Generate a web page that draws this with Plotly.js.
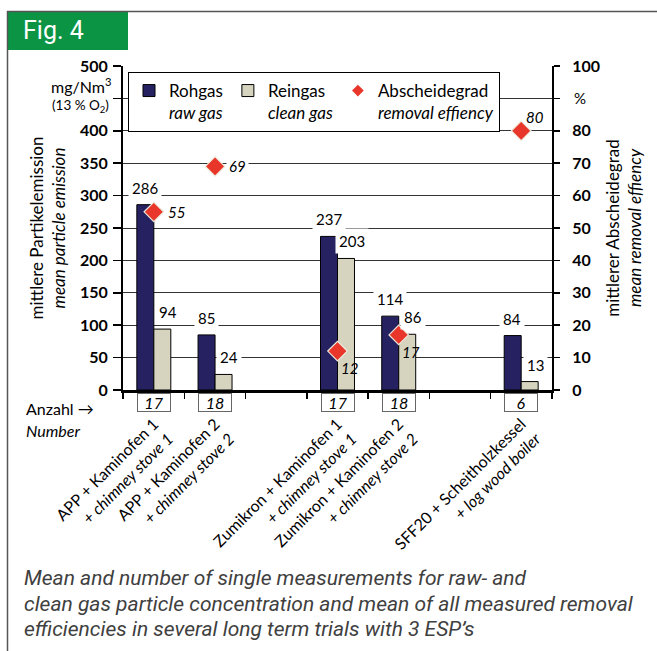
<!DOCTYPE html>
<html><head><meta charset="utf-8">
<script src="https://cdn.plot.ly/plotly-3.0.1.min.js"></script>
<style>html,body{margin:0;padding:0;background:#fff;} #chart{width:657px;height:651px;}</style>
</head><body><div id="chart"></div>
<script>
// ---- data ----
const categoryKeys = ["APP1", "APP2", "gap1", "ZUM1", "ZUM2", "gap2", "SFF20"];
const categoryLabels = [
  "APP + Kaminofen 1<br><i>+ chimney stove 1</i>",
  "APP + Kaminofen 2<br><i>+ chimney stove 2</i>",
  "",
  "Zumikron + Kaminofen 1<br><i>+ chimney stove 1</i>",
  "Zumikron + Kaminofen 2<br><i>+ chimney stove 2</i>",
  "",
  "SFF20 + Scheitholzkessel<br><i>+ log wood boiler</i>"
];
const rawGas = [286, 85, null, 237, 114, null, 84];
const cleanGas = [94, 24, null, 203, 86, null, 13];
const removalEfficiency = [55, 69, null, 12, 17, null, 80];
const measurementCounts = [17, 18, null, 17, 18, null, 6];
const leftTickVals = [0, 50, 100, 150, 200, 250, 300, 350, 400, 450, 500];
const leftTickText = ["0", "50", "100", "150", "200", "250", "300", "350", "400", "", "500"];
const rightTickVals = [0, 10, 20, 30, 40, 50, 60, 70, 80, 90, 100];
const rightTickText = ["0", "10", "20", "30", "40", "50", "60", "70", "80", "", "100"];

// ---- style (not data) ----
const removalLabelPlacement = ["right", "right", null, "below", "below", null, "above"];
const NAVY = "#262262", BEIGE = "#D6D3BF", RED = "#E8372A", GREEN = "#0A9444";
const FONT = "Lato, 'Open Sans', sans-serif";
const CAPFONT = "Roboto, sans-serif";
const L = 123, R = 552, T = 66, B = 390;
const px2x = p => (p - L) / (R - L);
const py2y = p => (B - p) / (B - T);

const traces = [
  {type: "bar", name: "Rohgas<br><i>raw gas</i>", x: categoryKeys, y: rawGas,
   marker: {color: NAVY, line: {color: "#000", width: 1}}, hoverinfo: "skip"},
  {type: "bar", name: "Reingas<br><i>clean gas</i>", x: categoryKeys, y: cleanGas,
   marker: {color: BEIGE, line: {color: "#000", width: 1}}, hoverinfo: "skip"},
  {type: "scatter", mode: "markers", name: "Abscheidegrad", showlegend: false,
   x: categoryKeys, y: removalEfficiency, yaxis: "y2",
   marker: {symbol: "diamond", size: 15, color: RED, line: {color: "#EDE9DC", width: 1.2}}, hoverinfo: "skip"},
  {type: "scatter", mode: "markers", name: "Abscheidegrad<br><i>removal effiency</i>",
   x: [null], y: [null], yaxis: "y2",
   marker: {symbol: "diamond", size: 9, color: RED, line: {width: 0}}}
];

const annotations = [];
const valFont = {family: FONT, size: 15, color: "#000"};
categoryKeys.forEach((k, i) => {
  if (rawGas[i] != null) annotations.push({x: k, y: rawGas[i], xref: "x", yref: "y", text: String(rawGas[i]),
    showarrow: false, xshift: -9, yshift: 17, bgcolor: "#fff", borderpad: 3, font: valFont});
  if (cleanGas[i] != null) annotations.push({x: k, y: cleanGas[i], xref: "x", yref: "y", text: String(cleanGas[i]),
    showarrow: false, xshift: 14, yshift: 17, bgcolor: "#fff", borderpad: 3, font: valFont});
  if (removalEfficiency[i] != null) {
    const pos = removalLabelPlacement[i];
    const a = {x: k, y: removalEfficiency[i], xref: "x", yref: "y2", text: "<i>" + removalEfficiency[i] + "</i>",
      showarrow: false, xanchor: "left", yanchor: "middle", font: valFont};
    if (pos === "right") { a.xshift = 11; a.bgcolor = "#fff"; a.borderpad = 2; }
    if (pos === "below") { a.xshift = 1; a.yshift = -17; }
    if (pos === "above") { a.xshift = 3; a.yshift = 14; }
    annotations.push(a);
  }
  if (measurementCounts[i] != null) annotations.push({x: k, y: 0, xref: "x", yref: "y", yanchor: "top",
    text: "<i>" + measurementCounts[i] + "</i>", showarrow: false, yshift: -3, width: 30, height: 15,
    bgcolor: "#fff", bordercolor: "#666", borderwidth: 1, borderpad: 1, font: {family: FONT, size: 16, color: "#000"}});
});
// side texts
function paperText(px, py, text, font, xanchor) {
  return {xref: "paper", yref: "paper", x: px2x(px), y: py2y(py), xanchor: xanchor || "left", yanchor: "middle",
    showarrow: false, text: text, font: font};
}
annotations.push(
  paperText(113, 85, "mg/Nm<sup>3</sup>", {family: FONT, size: 16, color: "#000"}, "right"),
  paperText(111, 106, "(13 % O<sub>2</sub>)", {family: FONT, size: 13.5, color: "#000"}, "right"),
  paperText(572, 98, "%", {family: FONT, size: 15, color: "#000"}),
  paperText(24, 408, "Anzahl \u2192", {family: FONT, size: 16, color: "#000"}),
  paperText(24, 430, "<i>Number</i>", {family: FONT, size: 16, color: "#000"}),
  paperText(21, 31, "Fig. 4", {family: CAPFONT, size: 25, color: "#fff"}),
  paperText(22, 578, "<i>Mean and number of single measurements for raw- and</i>", {family: CAPFONT, size: 21, color: "#404040"}),
  paperText(22, 604, "<i>clean gas particle concentration and mean of all measured removal</i>", {family: CAPFONT, size: 21, color: "#404040"}),
  paperText(22, 629, "<i>efficiencies in several long term trials with 3 ESP\u2019s</i>", {family: CAPFONT, size: 21, color: "#404040"})
);

const shapes = [
  {type: "line", xref: "paper", yref: "paper", x0: px2x(7), x1: px2x(657), y0: py2y(11.5), y1: py2y(11.5), line: {color: "#555", width: 1.5}},
  {type: "line", xref: "paper", yref: "paper", x0: px2x(7.5), x1: px2x(7.5), y0: py2y(11), y1: py2y(651), line: {color: "#555", width: 1.5}},
  {type: "rect", xref: "paper", yref: "paper", x0: px2x(7), x1: px2x(128), y0: py2y(11), y1: py2y(50), fillcolor: GREEN, line: {width: 0}, layer: "below"}
];

const layout = {
  width: 657, height: 651,
  margin: {l: L, r: 657 - R, t: T, b: 651 - B, pad: 0},
  paper_bgcolor: "#fff", plot_bgcolor: "#fff",
  font: {family: FONT, color: "#000"},
  barmode: "group", bargap: 0.445, bargroupgap: 0,
  xaxis: {type: "category", categoryorder: "array", categoryarray: categoryKeys,
    tickmode: "array", tickvals: categoryKeys, ticktext: categoryLabels,
    tickson: "boundaries", ticks: "outside", ticklen: 6, tickwidth: 1.5, tickcolor: "#000",
    tickangle: -45, ticklabelstandoff: 16, tickfont: {family: FONT, size: 16, color: "#000"},
    showline: true, linecolor: "#000", linewidth: 2.5, showgrid: false, zeroline: false, fixedrange: true},
  yaxis: {range: [0, 500], tickmode: "array", tickvals: leftTickVals, ticktext: leftTickText,
    ticks: "outside", ticklen: 8, tickwidth: 1.5, tickcolor: "#000", ticklabelstandoff: 2,
    tickfont: {family: FONT, size: 16, color: "#000", weight: "bold"},
    showline: true, linecolor: "#000", linewidth: 2, showgrid: true, gridcolor: "#333", gridwidth: 1, zeroline: false,
    title: {text: "mittlere Partikelemission<br><i>mean particle emission</i>", standoff: 10,
      font: {family: FONT, size: 17, color: "#000"}}, automargin: false},
  yaxis2: {range: [0, 100], overlaying: "y", side: "right", tickmode: "array", tickvals: rightTickVals, ticktext: rightTickText,
    ticks: "outside", ticklen: 6, tickwidth: 1.5, tickcolor: "#000", ticklabelstandoff: 9,
    tickfont: {family: FONT, size: 16, color: "#000", weight: "bold"},
    showline: true, linecolor: "#000", linewidth: 2, showgrid: false, zeroline: false,
    title: {text: "mittlerer Abscheidegrad<br><i>mean removal effiency</i>", standoff: 8,
      font: {family: FONT, size: 17, color: "#000"}}, automargin: false},
  showlegend: true,
  legend: {orientation: "h", x: px2x(128), y: py2y(72), xanchor: "left", yanchor: "top",
    bgcolor: "#fff", bordercolor: "#000", borderwidth: 1, valign: "top",
    font: {family: FONT, size: 17, color: "#000"}, itemwidth: 30, traceorder: "normal"},
  annotations: annotations,
  shapes: shapes
};

Plotly.newPlot("chart", traces, layout, {displayModeBar: false, staticPlot: true});
</script>
</body></html>
